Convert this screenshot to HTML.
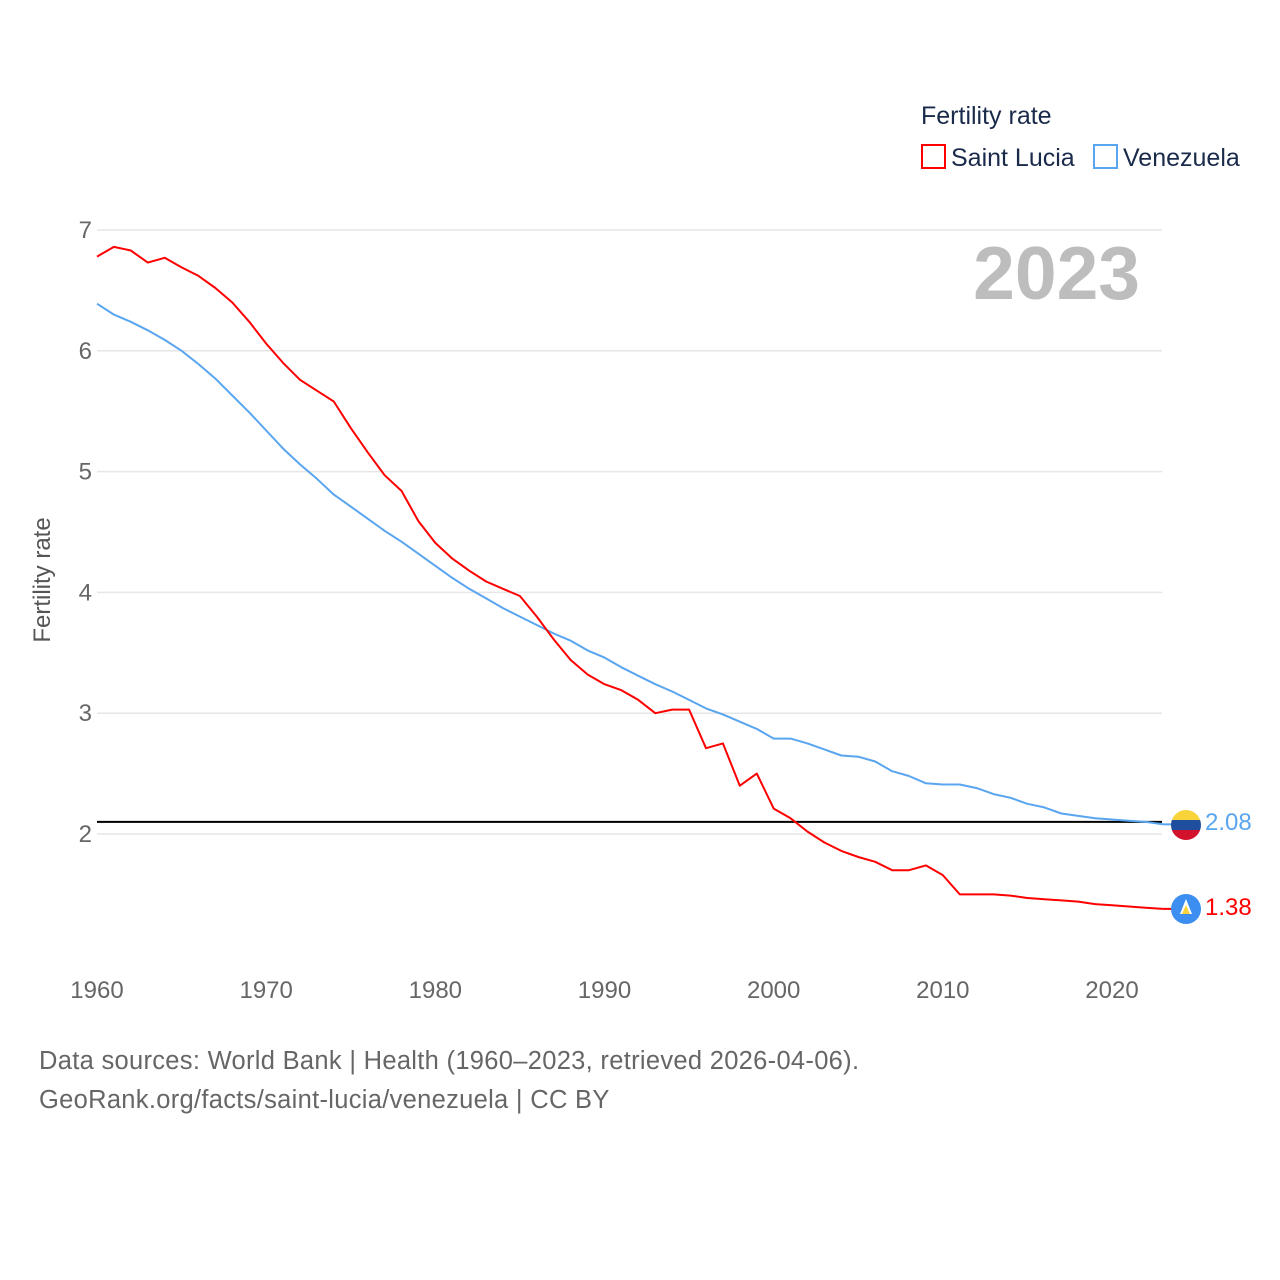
<!DOCTYPE html>
<html><head><meta charset="utf-8"><style>
html,body{margin:0;padding:0;background:#fff;}
svg{display:block;font-family:"Liberation Sans",sans-serif;}
</style></head><body>
<svg id="chart" width="1280" height="1280" viewBox="0 0 1280 1280">
<defs>
<clipPath id="cv"><circle cx="1186" cy="825" r="15"/></clipPath>
</defs>
<g id="grid"></g>
<g id="yticks"></g>
<g id="xticks"></g>
<text x="1140" y="299" text-anchor="end" font-size="75" font-weight="bold" fill="#bdbdbd">2023</text>
<text transform="translate(50,580) rotate(-90)" text-anchor="middle" font-size="24" fill="#555">Fertility rate</text>
<g id="series"></g>
<g>
<text x="921" y="124" font-size="25" fill="#1a2a4a">Fertility rate</text>
<g><rect x="922" y="145" width="23" height="23" fill="none" stroke="#ff0000" stroke-width="2"/><text x="951" y="166" font-size="25" fill="#1a2a4a">Saint Lucia</text></g>
<g><rect x="1094" y="145" width="23" height="23" fill="none" stroke="#5aa5ef" stroke-width="2"/><text x="1123" y="166" font-size="25" fill="#1a2a4a">Venezuela</text></g>
</g>
<g clip-path="url(#cv)">
<rect x="1170" y="810" width="32" height="10" fill="#f8d33a"/><rect x="1170" y="820" width="32" height="10" fill="#1f4e9e"/><rect x="1170" y="830" width="32" height="12" fill="#d2112b"/>
</g>
<g>
<circle cx="1186" cy="909" r="15" fill="#3c8ff0"/><polygon points="1186,899 1180,914 1192,914" fill="#fff"/><polygon points="1186,905 1182,914 1190,914" fill="#f8d33a"/>
</g>
<text id="vlab" x="1205" y="830" font-size="24" fill="#5aa5ef">2.08</text>
<text id="slab" x="1205" y="915" font-size="24" fill="#ff0000">1.38</text>
<text x="39" y="1069" font-size="25.5" letter-spacing="0.3" fill="#666">Data sources: World Bank | Health (1960–2023, retrieved 2026-04-06).</text>
<text x="39" y="1108" font-size="25.5" letter-spacing="0.3" fill="#666">GeoRank.org/facts/saint-lucia/venezuela | CC BY</text>
</svg>
<script>
const years = Array.from({length:64},(_,i)=>1960+i);
const saintLucia = [6.78,6.86,6.83,6.73,6.77,6.69,6.62,6.52,6.40,6.24,6.06,5.90,5.76,5.67,5.58,5.36,5.16,4.97,4.84,4.59,4.41,4.28,4.18,4.09,4.03,3.97,3.80,3.61,3.44,3.32,3.24,3.19,3.11,3.00,3.03,3.03,2.71,2.75,2.40,2.50,2.21,2.13,2.02,1.93,1.86,1.81,1.77,1.70,1.70,1.74,1.66,1.50,1.50,1.50,1.49,1.47,1.46,1.45,1.44,1.42,1.41,1.40,1.39,1.38];
const venezuela = [6.39,6.30,6.24,6.17,6.09,6.00,5.89,5.77,5.63,5.49,5.34,5.19,5.06,4.94,4.81,4.71,4.61,4.51,4.42,4.32,4.22,4.12,4.03,3.95,3.87,3.80,3.73,3.66,3.60,3.52,3.46,3.38,3.31,3.24,3.18,3.11,3.04,2.99,2.93,2.87,2.79,2.79,2.75,2.70,2.65,2.64,2.60,2.52,2.48,2.42,2.41,2.41,2.38,2.33,2.30,2.25,2.22,2.17,2.15,2.13,2.12,2.11,2.10,2.08];
const yTicks = [2,3,4,5,6,7];
const xTicks = [1960,1970,1980,1990,2000,2010,2020];
const refLine = 2.1;
const NS='http://www.w3.org/2000/svg';
const X = y => 97 + (y-1960)*(1015/60);
const Y = v => 834 - (v-2)*120.8;
function mk(tag, attrs, parent){const e=document.createElementNS(NS,tag);for(const k in attrs)e.setAttribute(k,attrs[k]);parent.appendChild(e);return e;}
const grid=document.getElementById('grid'), yt=document.getElementById('yticks'), xt=document.getElementById('xticks'), ser=document.getElementById('series');
yTicks.forEach(t=>{
  const l=mk('line',{x1:97,x2:1162,y1:Y(t),y2:Y(t),stroke:'#e6e6e6','stroke-width':1.5},grid);
  
  
  const tx=mk('text',{x:92,y:Y(t)+8,'text-anchor':'end','font-size':24,fill:'#666'},yt);
  tx.textContent=t;
  
  
});
xTicks.forEach(t=>{
  const tx=mk('text',{x:X(t),y:998,'text-anchor':'middle','font-size':24,fill:'#666'},xt);
  tx.textContent=t;
  
  
});
const ref=mk('line',{x1:97,x2:1162,y1:Y(refLine),y2:Y(refLine),stroke:'#000','stroke-width':2},ser);


function line(vals,color,name){
  const d=vals.map((v,i)=>(i?'L':'M')+X(years[i]).toFixed(1)+','+Y(v).toFixed(1)).join(' ');
  const p=mk('path',{d:d,fill:'none',stroke:color,'stroke-width':2,'stroke-linejoin':'round'},ser);
  
  
  const last=vals.length-1;
  const c=mk('line',{x1:X(years[last]),y1:Y(vals[last]),x2:1172,y2:Y(vals[last]),stroke:color,'stroke-width':2},ser);
  
  
}
line(venezuela,'#5aa5ef','venezuela-line');
line(saintLucia,'#ff0000','saint-lucia-line');
document.getElementById('vlab').textContent=venezuela[venezuela.length-1].toFixed(2);
document.getElementById('slab').textContent=saintLucia[saintLucia.length-1].toFixed(2);
</script>
</body></html>
